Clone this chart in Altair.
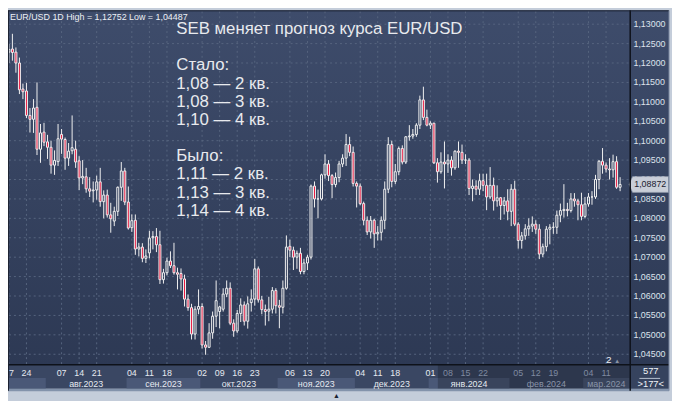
import altair as alt
import pandas as pd

# ---------------- data ----------------
opens = [
    1.1228, 1.1236, 1.1228, 1.1200, 1.1133, 1.1128, 1.1065, 1.1055, 1.1086, 1.0978,
    1.1022, 1.0997, 1.0983, 1.0937, 1.0946, 1.1016, 1.1003, 1.0955, 1.0974, 1.0978,
    1.0948, 1.0904, 1.0907, 1.0876, 1.0871, 1.0873, 1.0894, 1.0843, 1.0860, 1.0809,
    1.0793, 1.0818, 1.0880, 1.0922, 1.0842, 1.0776, 1.0795, 1.0721, 1.0726, 1.0697,
    1.0711, 1.0750, 1.0753, 1.0732, 1.0642, 1.0660, 1.0690, 1.0678, 1.0660, 1.0658,
    1.0644, 1.0592, 1.0570, 1.0502, 1.0566, 1.0573, 1.0474, 1.0468, 1.0505, 1.0548,
    1.0560, 1.0566, 1.0605, 1.0620, 1.0530, 1.0510, 1.0555, 1.0577, 1.0535, 1.0583,
    1.0592, 1.0670, 1.0590, 1.0565, 1.0561, 1.0566, 1.0614, 1.0575, 1.0571, 1.0620,
    1.0728, 1.0718, 1.0700, 1.0710, 1.0663, 1.0685, 1.0700, 1.0883, 1.0850, 1.0850,
    1.0912, 1.0940, 1.0910, 1.0887, 1.0905, 1.0940, 1.0955, 1.0990, 1.0970, 1.0890,
    1.0883, 1.0838, 1.0795, 1.0765, 1.0795, 1.0760, 1.0764, 1.0795, 1.0875, 1.0990,
    1.0895, 1.0920, 1.0980, 1.0945, 1.1010, 1.1012, 1.1016, 1.1040, 1.1105, 1.1060,
    1.1040, 1.1045, 1.0943, 1.0920, 1.0945, 1.0940, 1.0950, 1.0930, 1.0973, 1.0970,
    1.0950, 1.0950, 1.0877, 1.0883, 1.0875, 1.0897, 1.0885, 1.0855, 1.0885, 1.0845,
    1.0853, 1.0833, 1.0845, 1.0818, 1.0875, 1.0785, 1.0743, 1.0755, 1.0773, 1.0780,
    1.0785, 1.0772, 1.0708, 1.0727, 1.0772, 1.0777, 1.0777, 1.0808, 1.0820, 1.0823,
    1.0820, 1.0850, 1.0845, 1.0835, 1.0805, 1.0837, 1.0855, 1.0855, 1.0900, 1.0947,
    1.0937, 1.0927, 1.0925, 1.0946, 1.0880,
]
highs = [
    1.1249, 1.12752, 1.1240, 1.1214, 1.1147, 1.1149, 1.1084, 1.1107, 1.1150, 1.1043,
    1.1046, 1.1015, 1.1000, 1.0975, 1.1043, 1.1030, 1.1008, 1.0994, 1.1065, 1.1000,
    1.0960, 1.0950, 1.0930, 1.0906, 1.0895, 1.0910, 1.0930, 1.0872, 1.0874, 1.0840,
    1.0830, 1.0882, 1.0945, 1.0930, 1.0882, 1.0810, 1.0810, 1.0737, 1.0736, 1.0720,
    1.0768, 1.0767, 1.0775, 1.0768, 1.0670, 1.0699, 1.0715, 1.0737, 1.0673, 1.0671,
    1.0655, 1.0604, 1.0580, 1.0574, 1.0617, 1.0581, 1.0484, 1.0530, 1.0560, 1.0640,
    1.0575, 1.0620, 1.0640, 1.0635, 1.0540, 1.0564, 1.0594, 1.0586, 1.0599, 1.0617,
    1.0695, 1.0676, 1.0600, 1.0578, 1.0598, 1.0623, 1.0620, 1.0590, 1.0640, 1.0756,
    1.0745, 1.0727, 1.0717, 1.0724, 1.0696, 1.0706, 1.0887, 1.0895, 1.0874, 1.0915,
    1.0965, 1.0950, 1.0914, 1.0918, 1.0948, 1.0965, 1.1017, 1.1010, 1.0985, 1.0895,
    1.0890, 1.0843, 1.0805, 1.0806, 1.0799, 1.0780, 1.0805, 1.0895, 1.1009, 1.1000,
    1.0940, 1.0985, 1.0988, 1.1012, 1.1040, 1.1030, 1.1045, 1.1116, 1.1139, 1.1080,
    1.1050, 1.1046, 1.0955, 1.0970, 1.0998, 1.0965, 1.0960, 1.0975, 1.0998, 1.0990,
    1.0965, 1.0955, 1.0900, 1.0898, 1.0915, 1.0915, 1.0915, 1.0932, 1.0905, 1.0885,
    1.0855, 1.0855, 1.0875, 1.0888, 1.0897, 1.0790, 1.0765, 1.0785, 1.0800, 1.0805,
    1.0795, 1.0785, 1.0735, 1.0780, 1.0785, 1.0790, 1.0820, 1.0838, 1.0888, 1.0840,
    1.0865, 1.0865, 1.0850, 1.0866, 1.0855, 1.0865, 1.0870, 1.0912, 1.0950, 1.0981,
    1.0944, 1.0955, 1.0964, 1.0960, 1.0906,
]
lows = [
    1.1200, 1.1206, 1.1175, 1.1120, 1.1107, 1.1058, 1.1021, 1.1020, 1.0963, 1.0943,
    1.0986, 1.0953, 1.0915, 1.0912, 1.0935, 1.0966, 1.0925, 1.0935, 1.0965, 1.0930,
    1.0873, 1.0888, 1.0866, 1.0855, 1.0841, 1.0848, 1.0830, 1.0800, 1.0802, 1.0763,
    1.0780, 1.0806, 1.0845, 1.0834, 1.0771, 1.0765, 1.0706, 1.0702, 1.0687, 1.0685,
    1.0697, 1.0720, 1.0713, 1.0631, 1.0632, 1.0653, 1.0672, 1.0655, 1.0617, 1.0614,
    1.0573, 1.0562, 1.0488, 1.0488, 1.0553, 1.0465, 1.04487, 1.0466, 1.0490, 1.0520,
    1.0517, 1.0560, 1.0597, 1.0525, 1.0495, 1.0505, 1.0533, 1.0524, 1.0516, 1.0560,
    1.0575, 1.0583, 1.0553, 1.0524, 1.0535, 1.0555, 1.0555, 1.0517, 1.0555, 1.0616,
    1.0700, 1.0667, 1.0670, 1.0656, 1.0656, 1.0667, 1.0694, 1.0828, 1.0800, 1.0846,
    1.0902, 1.0896, 1.0852, 1.0880, 1.0893, 1.0932, 1.0935, 1.0960, 1.0882, 1.0828,
    1.0834, 1.0782, 1.0757, 1.0748, 1.0724, 1.0743, 1.0743, 1.0772, 1.0865, 1.0880,
    1.0888, 1.0911, 1.0939, 1.0940, 1.1000, 1.1005, 1.1010, 1.1030, 1.1053, 1.1037,
    1.1030, 1.0940, 1.0892, 1.0915, 1.0877, 1.0917, 1.0910, 1.0925, 1.0930, 1.0940,
    1.0940, 1.0860, 1.0844, 1.0860, 1.0860, 1.0870, 1.0821, 1.0850, 1.0820, 1.0830,
    1.0796, 1.0810, 1.0795, 1.0780, 1.0780, 1.0722, 1.0722, 1.0745, 1.0755, 1.0765,
    1.0760, 1.0695, 1.0700, 1.0715, 1.0733, 1.0760, 1.0760, 1.0790, 1.0802, 1.0805,
    1.0815, 1.0830, 1.0795, 1.0795, 1.0800, 1.0830, 1.0835, 1.0850, 1.0875, 1.0915,
    1.0918, 1.0900, 1.0905, 1.0876, 1.0870,
]
closes = [
    1.1235, 1.1227, 1.1200, 1.1131, 1.1126, 1.1065, 1.1055, 1.1084, 1.0978, 1.1020,
    1.0996, 1.0983, 1.0937, 1.0949, 1.1005, 1.1004, 1.0955, 1.0973, 1.0982, 1.0945,
    1.0904, 1.0908, 1.0876, 1.0870, 1.0873, 1.0894, 1.0843, 1.0860, 1.0809, 1.0799,
    1.0818, 1.0880, 1.0922, 1.0842, 1.0775, 1.0794, 1.0721, 1.0726, 1.0697, 1.0703,
    1.0749, 1.0753, 1.0732, 1.0642, 1.0660, 1.0690, 1.0678, 1.0660, 1.0656, 1.0644,
    1.0592, 1.0570, 1.0502, 1.0566, 1.0573, 1.0474, 1.0468, 1.0505, 1.0548, 1.0588,
    1.0572, 1.0605, 1.0620, 1.0530, 1.0510, 1.0555, 1.0577, 1.0535, 1.0580, 1.0592,
    1.0670, 1.0590, 1.0565, 1.0560, 1.0566, 1.0614, 1.0575, 1.0571, 1.0620, 1.0726,
    1.0718, 1.0700, 1.0710, 1.0663, 1.0685, 1.0700, 1.0883, 1.0850, 1.0850, 1.0912,
    1.0940, 1.0910, 1.0887, 1.0905, 1.0940, 1.0955, 1.0990, 1.0970, 1.0890, 1.0883,
    1.0838, 1.0795, 1.0765, 1.0795, 1.0760, 1.0764, 1.0795, 1.0875, 1.0990, 1.0895,
    1.0920, 1.0980, 1.0945, 1.1010, 1.1012, 1.1016, 1.1040, 1.1105, 1.1060, 1.1040,
    1.1045, 1.0943, 1.0920, 1.0945, 1.0940, 1.0950, 1.0930, 1.0973, 1.0970, 1.0950,
    1.0950, 1.0877, 1.0883, 1.0875, 1.0897, 1.0885, 1.0855, 1.0885, 1.0845, 1.0853,
    1.0833, 1.0845, 1.0818, 1.0875, 1.0785, 1.0743, 1.0755, 1.0773, 1.0780, 1.0785,
    1.0772, 1.0708, 1.0727, 1.0772, 1.0777, 1.0777, 1.0808, 1.0820, 1.0823, 1.0820,
    1.0850, 1.0845, 1.0835, 1.0805, 1.0837, 1.0855, 1.0855, 1.0900, 1.0947, 1.0937,
    1.0927, 1.0925, 1.0946, 1.0880, 1.08872,
]

TICK_DATES = [
    "2023-07-17", "2023-07-24", "2023-08-07", "2023-08-14", "2023-08-21",
    "2023-09-04", "2023-09-11", "2023-09-18", "2023-10-02", "2023-10-09",
    "2023-10-16", "2023-10-23", "2023-11-06", "2023-11-13", "2023-11-20",
    "2023-12-04", "2023-12-11", "2023-12-18", "2024-01-01", "2024-01-08",
    "2024-01-15", "2024-01-22", "2024-02-05", "2024-02-12", "2024-02-19",
    "2024-03-04", "2024-03-11",
]
MONTH_LABELS = ["", "авг.2023", "сен.2023", "окт.2023", "ноя.2023", "дек.2023",
                "янв.2024", "фев.2024", "мар.2024"]
Y_TICKS = [1.045, 1.050, 1.055, 1.060, 1.065, 1.070, 1.075, 1.080, 1.085,
           1.090, 1.095, 1.100, 1.105, 1.110, 1.115, 1.120, 1.125, 1.130]
NOTE_TITLE = "SEB меняет прогноз курса EUR/USD"
NOTE_NOW = ["Стало:", "1,08 — 2 кв.", "1,08 — 3 кв.", "1,10 — 4 кв."]
NOTE_WAS = ["Было:", "1,11 — 2 кв.", "1,13 — 3 кв.", "1,14 — 4 кв."]
FOOT_TOP, FOOT_BOTTOM, MARKER = "577", ">177<", "2"

# ---------------- frames ----------------
n = len(closes)
dates = pd.bdate_range("2023-07-17", periods=n)
df = pd.DataFrame({"i": range(n), "date": dates.strftime("%Y-%m-%d"),
                   "o": opens, "h": highs, "l": lows, "c": closes})
df["top"] = df[["o", "c"]].max(axis=1)
df["bot"] = df[["o", "c"]].min(axis=1)

pos = {d: k for k, d in enumerate(df["date"])}
ticks_df = pd.DataFrame({"i": [pos[d] for d in TICK_DATES],
                         "lab": [d[-2:] for d in TICK_DATES]})

W, H = 628, 357
X0, X1 = 0.03, 176.68
Y0, Y1 = 1.04247, 1.13331
xs = alt.Scale(domain=[X0, X1], nice=False, zero=False, padding=0)
ys = alt.Scale(domain=[Y0, Y1], nice=False, zero=False, padding=0)

per = dates.to_period("M")
uniq = per.unique()
rows = []
for k, p in enumerate(uniq):
    idx = [j for j in range(n) if per[j] == p]
    s = idx[0] - 0.5
    e = idx[-1] + 0.5 if k < len(uniq) - 1 else X1
    rows.append({"s": s, "e": e, "m": (s + e) / 2, "lab": MONTH_LABELS[k],
                 "light": k % 2 == 0, "dim": idx[0] > 121})
months = pd.DataFrame(rows)

one = pd.DataFrame({"k": [0]})
FONT = "Liberation Sans"
GRID = "#56657f"


def box(x, x2, y, y2, color, opacity=1.0):
    return alt.Chart(one).mark_rect(color=color, opacity=opacity).encode(
        x=alt.value(x), x2=alt.value(x2), y=alt.value(y), y2=alt.value(y2))


def line(x, x2, y, y2, color, w):
    return alt.Chart(one).mark_rule(color=color, strokeWidth=w).encode(
        x=alt.value(x), x2=alt.value(x2), y=alt.value(y), y2=alt.value(y2))


grad = alt.LinearGradient(
    gradient="linear",
    stops=[alt.GradientStop(color="#3e4c6b", offset=0),
           alt.GradientStop(color="#2d3954", offset=1)],
    x1=0, x2=0, y1=0, y2=1)
bg = alt.Chart(one).mark_rect(color=grad).encode(
    x=alt.value(0), x2=alt.value(668), y=alt.value(-1), y2=alt.value(357.5))

axis_base = box(-1, 668, 358, 382, "#3a4763")
bands = alt.Chart(months[months["light"]]).mark_rect(color="#4a5877").encode(
    x=alt.X("s:Q", scale=xs, axis=None), x2="e:Q",
    y=alt.value(371), y2=alt.value(382))
dim = box(434, 628, 358, 382, "#000000", 0.22)
corner = box(629, 668, 358, 382, "#36435e")
strip = box(-1, 668, 382, 384.5, "#8393ab")

hgrid = alt.Chart(pd.DataFrame({"v": Y_TICKS})).mark_rule(
    color=GRID, strokeWidth=1, strokeDash=[2, 3]).encode(
    y=alt.Y("v:Q", scale=ys, axis=None), x=alt.value(0), x2=alt.value(W))
vgrid = alt.Chart(ticks_df).mark_rule(
    color=GRID, strokeWidth=1, strokeDash=[2, 3]).encode(
    x=alt.X("i:Q", scale=xs, axis=None), y=alt.value(0), y2=alt.value(H))

base = alt.Chart(df)
wick_up = base.mark_rule(color="#f2f2f2", strokeWidth=1).encode(
    x=alt.X("i:Q", scale=xs, axis=None),
    y=alt.Y("h:Q", scale=ys, axis=None), y2="top:Q")
wick_dn = base.mark_rule(color="#f2f2f2", strokeWidth=1).encode(
    x=alt.X("i:Q", scale=xs, axis=None),
    y=alt.Y("bot:Q", scale=ys, axis=None), y2="l:Q")
bodies = base.mark_bar(size=2, stroke="#f2f2f2", strokeWidth=1,
                       fill="#e8173f").encode(
    x=alt.X("i:Q", scale=xs, axis=None),
    y=alt.Y("o:Q", scale=ys, axis=None), y2="c:Q",
    fillOpacity=alt.condition("datum.c < datum.o", alt.value(1), alt.value(0)))


def note_block(lines, y):
    return alt.Chart(one).mark_text(
        align="left", baseline="alphabetic", font=FONT, fontSize=17,
        color="#e8eaee", lineBreak="\n", lineHeight=18.4).encode(
        x=alt.value(169.3), y=alt.value(y), text=alt.value("\n".join(lines)))


notes = [note_block([NOTE_TITLE], 23),
         note_block(NOTE_NOW, 23 + 2 * 18.4),
         note_block(NOTE_WAS, 23 + 7 * 18.4)]

fmt = lambda v: f"{v:.5f}".replace(".", ",")
info_txt = f"EUR/USD 1D High = {fmt(max(highs))} Low = {fmt(min(lows))}"
info = alt.Chart(one).mark_text(
    align="left", baseline="middle", font=FONT, fontSize=9,
    color="#eef1f5").encode(x=alt.value(1), y=alt.value(6),
                            text=alt.value(info_txt))

ylabels = alt.Chart(pd.DataFrame({"v": Y_TICKS})).transform_calculate(
    lab="replace(format(datum.v, '.5f'), '.', ',')").mark_text(
    align="left", baseline="middle", font=FONT, fontSize=9,
    color="#dde3ec").encode(
    y=alt.Y("v:Q", scale=ys, axis=None), x=alt.value(632), text="lab:N")

last = df.tail(1).copy()
last["lab"] = fmt(closes[-1])
tag = alt.Chart(last).mark_point(
    shape="M-1,0L-0.82,-0.4L1,-0.4L1,0.4L-0.82,0.4Z", size=1600, filled=True,
    fill="#c9ced8", stroke="#8791a2", strokeWidth=0.6, opacity=1).encode(
    x=alt.value(647.5), y=alt.Y("c:Q", scale=ys, axis=None))
tag_txt = alt.Chart(last).mark_text(
    align="center", baseline="middle", font=FONT, fontSize=9,
    color="#1b2130").encode(
    x=alt.value(649), y=alt.Y("c:Q", scale=ys, axis=None), text="lab:N")

day_lab = alt.Chart(ticks_df).mark_text(
    align="center", baseline="middle", font=FONT, fontSize=9).encode(
    x=alt.X("i:Q", scale=xs, axis=None), y=alt.value(366), text="lab:N",
    color=alt.condition("datum.i > 121", alt.value("#7f8aa0"),
                        alt.value("#e6eaf0")))
mon_lab = alt.Chart(months[months["lab"] != ""]).mark_text(
    align="center", baseline="middle", font=FONT, fontSize=9).encode(
    x=alt.X("m:Q", scale=xs, axis=None), y=alt.value(377), text="lab:N",
    color=alt.condition("datum.dim", alt.value("#8a94a8"),
                        alt.value("#e6eaf0")))

edges = [
    line(628.7, 628.7, -1, 384, "#0e121a", 1.5),
    line(-1, 668, 357.6, 357.6, "#0e121a", 1.5),
    line(-1, 668, -0.5, -0.5, "#1a2130", 1),
    line(-0.5, -0.5, -1, 384, "#1a2130", 1),
    line(668, 668, -1, 384, "#7e8ca4", 1),
    line(638, 659, 371.5, 371.5, "#b9c3d1", 1),
]


def label(txt, x, y, size, color, anchor="center"):
    return alt.Chart(one).mark_text(
        align=anchor, baseline="middle", font=FONT, fontSize=size,
        color=color).encode(x=alt.value(x), y=alt.value(y), text=alt.value(txt))


extras = [
    label(FOOT_TOP, 649.5, 364.5, 9.5, "#f0f3f7"),
    label(FOOT_BOTTOM, 649.5, 377, 9.5, "#f0f3f7"),
    label(MARKER, 607, 353, 10, "#eef1f5"),
    label("▲", 615.5, 353.5, 6, "#8a94a6"),
    label("▲", 331.5, 389, 7, "#1a2130"),
]

chart = alt.layer(
    bg, axis_base, bands, dim, corner, strip, hgrid, vgrid,
    wick_up, wick_dn, bodies, *notes, info, ylabels, tag, tag_txt,
    day_lab, mon_lab, *edges, *extras,
).properties(
    width=W, height=H,
    padding={"left": 1, "top": 1, "right": 43, "bottom": 35},
    autosize=alt.AutoSizeParams(type="none"),
    background="#c4cdda",
).configure_view(stroke=None)

chart.save("out.html", embed_options={"renderer": "svg", "actions": False})
